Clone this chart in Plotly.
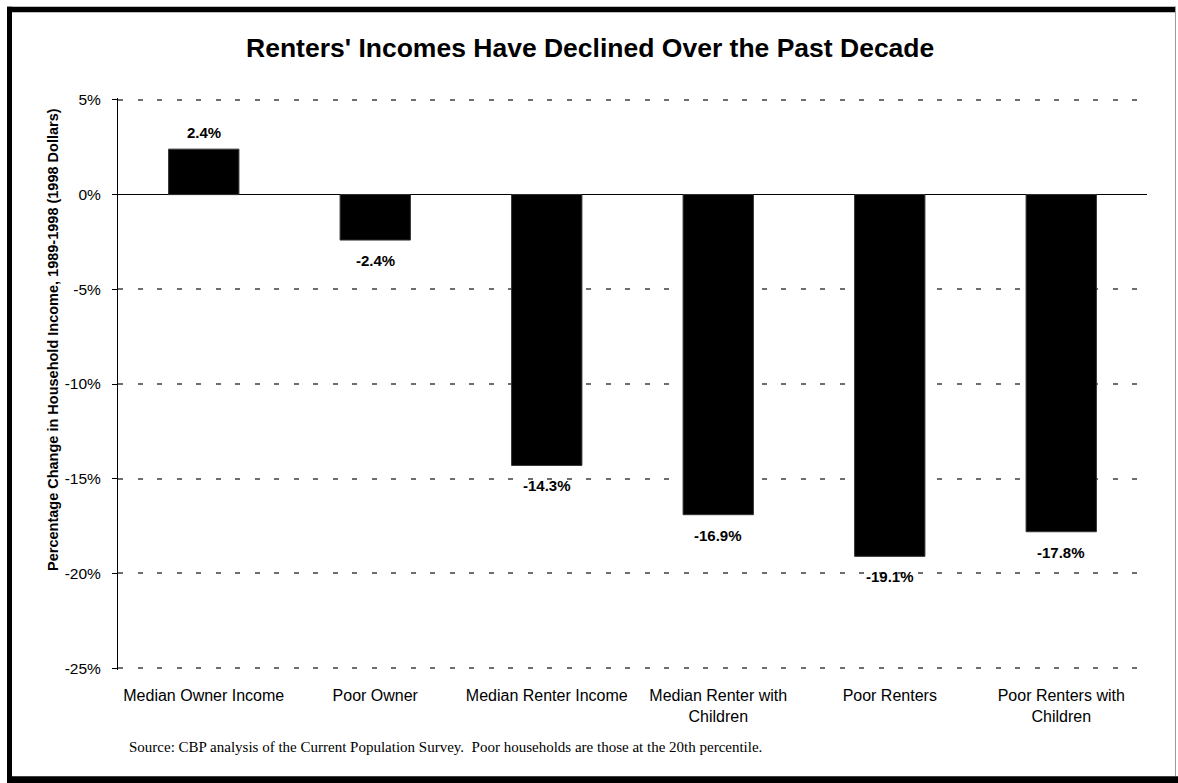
import plotly.graph_objects as go

# Percentage change in household income, 1989-1998 (1998 dollars)
categories = [
    "Median Owner Income",
    "Poor Owner",
    "Median Renter Income",
    "Median Renter with<br>Children",
    "Poor Renters",
    "Poor Renters with<br>Children",
]
pct_change = [2.4, -2.4, -14.3, -16.9, -19.1, -17.8]
value_labels = ["2.4%", "-2.4%", "-14.3%", "-16.9%", "-19.1%", "-17.8%"]

y_ticks = [5, 0, -5, -10, -15, -20, -25]
y_tick_text = ["5%", "0%", "-5%", "-10%", "-15%", "-20%", "-25%"]

title_text = "Renters' Incomes Have Declined Over the Past Decade"
y_title_text = "Percentage Change in Household Income, 1989-1998 (1998 Dollars)"
source_text = ("Source: CBP analysis of the Current Population Survey.  "
               "Poor households are those at the 20th percentile.")

W, H = 1178, 783
# the value range is padded a little so the end gridlines are not clipped
Y_PAD = 0.1
Y_MIN, Y_MAX = -25 - Y_PAD, 5 + Y_PAD
PX_PER_UNIT = 568 / 30
PAD_PX = Y_PAD * PX_PER_UNIT
ML, MR = 118, 31
MT, MB = 100 - PAD_PX, 115 - PAD_PX
PW, PH = W - ML - MR, H - MT - MB

SANS = "Liberation Sans, Arial, sans-serif"
SERIF = "Liberation Serif, Times New Roman, serif"


def px_x(px):
    return (px - ML) / PW


def px_y(py):
    return (H - MB - py) / PH


n = len(categories)
x_idx = list(range(n))

fig = go.Figure()
fig.add_trace(go.Bar(
    x=x_idx,
    y=pct_change,
    width=0.41,
    marker=dict(color="#000000", line=dict(color="#333333", width=1)),
    hoverinfo="skip",
))

# Value labels above positive bars, below negative bars
annotations = []
for xi, v, lab in zip(x_idx, pct_change, value_labels):
    annotations.append(dict(
        x=xi, y=v, xref="x", yref="y", text=lab, showarrow=False,
        yanchor="bottom" if v >= 0 else "top",
        yshift=6 if v >= 0 else -10,
        font=dict(family=SANS, size=15, color="#000000", weight="bold"),
    ))

# Rotated y-axis title
annotations.append(dict(
    x=px_x(53), y=px_y(340), xref="paper", yref="paper",
    text=y_title_text, showarrow=False, textangle=-90,
    xanchor="center", yanchor="middle",
    font=dict(family=SANS, size=14.5, color="#000000", weight="bold"),
))

# Source note
annotations.append(dict(
    x=px_x(127), y=px_y(747), xref="paper", yref="paper",
    text=source_text, showarrow=False, xanchor="left", yanchor="middle",
    font=dict(family=SERIF, size=15, color="#000000"),
))

# Frame around the chart: heavy on left/top/bottom, thin on the right
shapes = [
    dict(type="rect", xref="paper", yref="paper", layer="above",
         x0=px_x(7), x1=px_x(12), y0=px_y(783), y1=px_y(7),
         fillcolor="#000000", line=dict(width=0)),
    dict(type="rect", xref="paper", yref="paper", layer="above",
         x0=px_x(7), x1=px_x(1176), y0=px_y(12.5), y1=px_y(7),
         fillcolor="#000000", line=dict(width=0)),
    dict(type="rect", xref="paper", yref="paper", layer="above",
         x0=px_x(7), x1=px_x(1178), y0=px_y(783), y1=px_y(776),
         fillcolor="#000000", line=dict(width=0)),
    dict(type="line", xref="paper", yref="paper", layer="above",
         x0=px_x(1175.5), x1=px_x(1175.5), y0=px_y(776), y1=px_y(7),
         line=dict(color="#9a9a9a", width=1)),
]

zero_pos = (0 - Y_MIN) / (Y_MAX - Y_MIN)

fig.update_layout(
    width=W, height=H,
    margin=dict(l=ML, r=MR, t=MT, b=MB, autoexpand=False),
    paper_bgcolor="#ffffff",
    plot_bgcolor="#ffffff",
    showlegend=False,
    title=dict(
        text=title_text, x=0.501, xref="container", xanchor="center",
        y=1 - 48 / H, yref="container", yanchor="middle",
        font=dict(family=SANS, size=26.5, color="#000000", weight="bold"),
    ),
    xaxis=dict(
        range=[-0.5, n - 0.5],
        tickmode="array", tickvals=x_idx, ticktext=categories,
        showline=False, showgrid=False, zeroline=False, ticks="",
        ticklabelstandoff=14,
        tickfont=dict(family=SANS, size=16, color="#000000"),
        fixedrange=True,
    ),
    # Category axis line drawn at the zero level with ticks between bars
    xaxis2=dict(
        overlaying="x", anchor="free", position=zero_pos,
        range=[-0.5, n - 0.5],
        tickmode="array", tickvals=[i + 0.5 for i in range(n)],
        showticklabels=False, ticks="outside", ticklen=5, tickwidth=1,
        tickcolor="#000000",
        showline=True, linecolor="#000000", linewidth=1,
        showgrid=False, zeroline=False, fixedrange=True,
    ),
    yaxis=dict(
        range=[Y_MIN, Y_MAX],
        tickmode="array", tickvals=y_ticks, ticktext=y_tick_text,
        showline=True, linecolor="#000000", linewidth=1,
        ticks="outside", ticklen=5, tickwidth=1, tickcolor="#000000",
        ticklabelstandoff=8,
        showgrid=True, gridcolor="#6e6e6e", gridwidth=1.5,
        griddash="5px,14.5px",
        zeroline=True, zerolinecolor="#000000", zerolinewidth=1,
        tickfont=dict(family=SANS, size=15.5, color="#000000"),
        fixedrange=True,
    ),
    annotations=annotations,
    shapes=shapes,
)

fig.write_html("out.html")
